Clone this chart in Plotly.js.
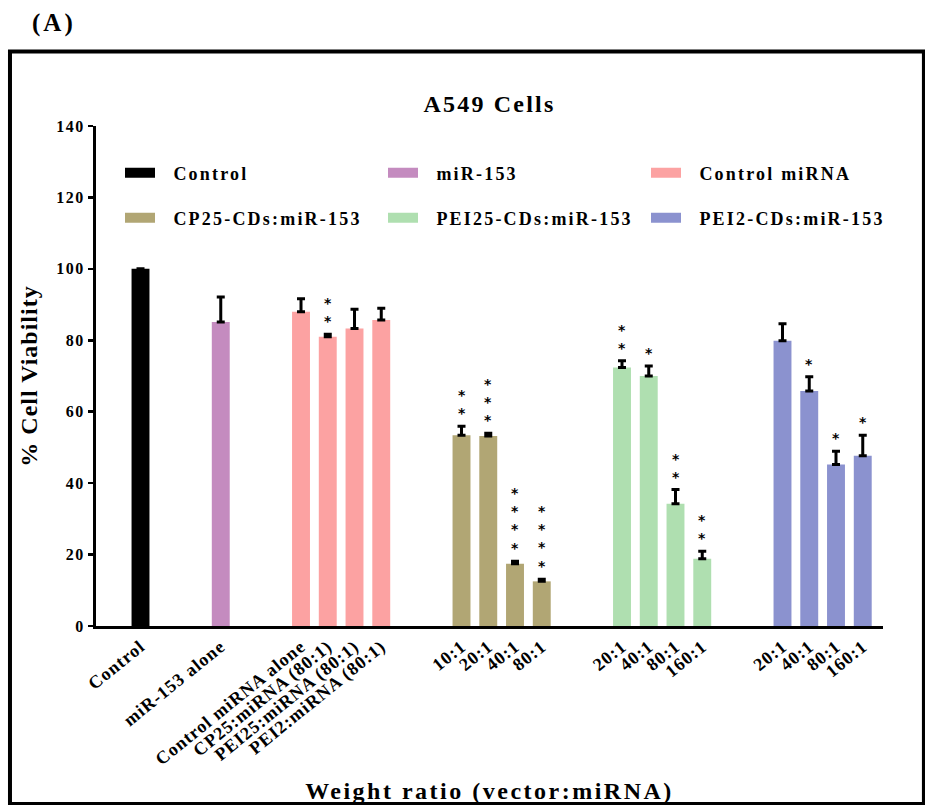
<!DOCTYPE html>
<html>
<head>
<meta charset="utf-8">
<script src="https://cdn.plot.ly/plotly-3.0.1.min.js"></script>
<style>
html,body{margin:0;padding:0;background:#fff;}
#chart{width:925px;height:805px;}
.gtitle{letter-spacing:2.2px;}
.xtick text{letter-spacing:1px;}
.ytick text{letter-spacing:1.5px;}
.xtitle{letter-spacing:2.5px;}
.ytitle{letter-spacing:1px;}
</style>
</head>
<body>
<div id="chart"></div>
<script>
// ---- data ----
const groupNames = ['Control', 'miR-153', 'Control miRNA', 'CP25-CDs:miR-153', 'PEI25-CDs:miR-153', 'PEI2-CDs:miR-153'];
const tickLabels = [
  ['Control'],
  ['miR-153 alone'],
  ['Control miRNA alone', 'CP25:miRNA (80:1)', 'PEI25:miRNA (80:1)', 'PEI2:miRNA (80:1)'],
  ['10:1', '20:1', '40:1', '80:1'],
  ['20:1', '40:1', '80:1', '160:1'],
  ['20:1', '40:1', '80:1', '160:1']
];
const viability = [
  [100],
  [85.1],
  [88.0, 81.0, 83.3, 85.7],
  [53.4, 53.2, 17.4, 12.5],
  [72.4, 70.0, 34.2, 18.8],
  [79.9, 65.8, 45.2, 47.7]
];
const errorUp = [
  [0],
  [7.0],
  [3.6, 0.7, 5.4, 3.3],
  [2.5, 0.8, 0.7, 0.6],
  [1.9, 2.8, 4.0, 2.1],
  [4.7, 4.0, 3.7, 5.7]
];
const stars = [
  [0],
  [0],
  [0, 2, 0, 0],
  [2, 3, 4, 4],
  [2, 1, 2, 2],
  [0, 1, 1, 1]
];

// ---- styles ----
const groupColors = ['#000000', '#c48bbf', '#fca2a2', '#b1a674', '#afdfb0', '#8b92cf'];
const serif = 'Liberation Serif';

// ---- build traces ----
const traces = [];
const tickvals = [];
const ticktext = [];
const annotations = [];
let slot = 0;
groupNames.forEach((name, g) => {
  const xs = [];
  viability[g].forEach((v, i) => {
    xs.push(slot);
    tickvals.push(slot);
    ticktext.push(tickLabels[g][i]);
    if (stars[g][i] > 0) {
      annotations.push({
        x: slot, y: v + errorUp[g][i], xref: 'x', yref: 'y',
        text: Array(stars[g][i]).fill('*').join('<br>'),
        showarrow: false, yanchor: 'bottom', xanchor: 'center', yshift: 3,
        font: {family: 'DejaVu Sans', size: 14, weight: 'bold', color: '#000'}
      });
    }
    slot += 1;
  });
  slot += 2;
  traces.push({
    type: 'bar', name: name, x: xs, y: viability[g], width: 0.67,
    marker: {color: groupColors[g], line: {width: 0}},
    error_y: {type: 'data', symmetric: false, array: errorUp[g],
              arrayminus: errorUp[g].map(() => 0), color: '#000', thickness: 3, width: 4},
    showlegend: false, hoverinfo: 'x+y'
  });
});
// legend entries (wide swatches), two rows as two legends
groupNames.forEach((name, g) => {
  traces.push({
    type: 'scatter', mode: 'lines', x: [null], y: [null],
    name: '<span style="letter-spacing:2.2px">\u00a0\u00a0' + name + '</span>',
    line: {color: groupColors[g], width: 10},
    legend: g < 3 ? 'legend' : 'legend2', showlegend: true
  });
});

annotations.push({
  xref: 'paper', yref: 'paper', x: -0.0534, y: 1.206, xanchor: 'center', yanchor: 'middle',
  text: '<span style="letter-spacing:3px">(A)</span>', showarrow: false,
  font: {family: serif, size: 25, weight: 'bold', color: '#000'}
});

const legendCommon = {
  orientation: 'h', xanchor: 'left', yanchor: 'middle', x: 0.0305,
  entrywidth: 218, itemwidth: 30, bgcolor: 'rgba(0,0,0,0)', borderwidth: 0,
  font: {family: serif, size: 18, weight: 'bold', color: '#000'}
};

const layout = {
  width: 925, height: 805,
  margin: {l: 96, r: 42, t: 126, b: 179, pad: 0},
  paper_bgcolor: '#fff', plot_bgcolor: '#fff',
  font: {family: serif, color: '#000'},
  barmode: 'overlay',
  title: {text: 'A549 Cells', x: 0.5, xref: 'paper', xanchor: 'center',
          y: 1 - 104 / 805, yref: 'container', yanchor: 'middle',
          font: {family: serif, size: 24, weight: 'bold', color: '#000'}},
  xaxis: {
    range: [-1.664, 27.757], tickmode: 'array', tickvals: tickvals, ticktext: ticktext,
    tickangle: -39, ticks: '', showline: true, linecolor: '#000', linewidth: 3,
    showgrid: false, zeroline: false, automargin: false,
    tickfont: {family: serif, size: 18, weight: 'bold', color: '#000'},
    title: {text: 'Weight ratio (vector:miRNA)', standoff: 15,
            font: {family: serif, size: 24, weight: 'bold', color: '#000'}}
  },
  yaxis: {
    range: [0, 140], tick0: 0, dtick: 20, ticks: 'outside', ticklen: 5, tickwidth: 2.5,
    tickcolor: '#000', showline: true, linecolor: '#000', linewidth: 3,
    showgrid: false, zeroline: false, automargin: false,
    tickfont: {family: serif, size: 16, weight: 'bold', color: '#000'},
    title: {text: '% Cell Viability', standoff: 12,
            font: {family: serif, size: 24, weight: 'bold', color: '#000'}}
  },
  legend: Object.assign({}, legendCommon, {y: 0.906}),
  legend2: Object.assign({}, legendCommon, {y: 0.816}),
  annotations: annotations,
  shapes: [{
    type: 'rect', xref: 'paper', yref: 'paper',
    x0: -0.1093, x1: 1.052, y0: -0.356, y1: 1.149,
    line: {color: '#000', width: 4}, fillcolor: 'rgba(0,0,0,0)', layer: 'above'
  }]
};

Plotly.newPlot('chart', traces, layout, {displayModeBar: false, staticPlot: true});
</script>
</body>
</html>
